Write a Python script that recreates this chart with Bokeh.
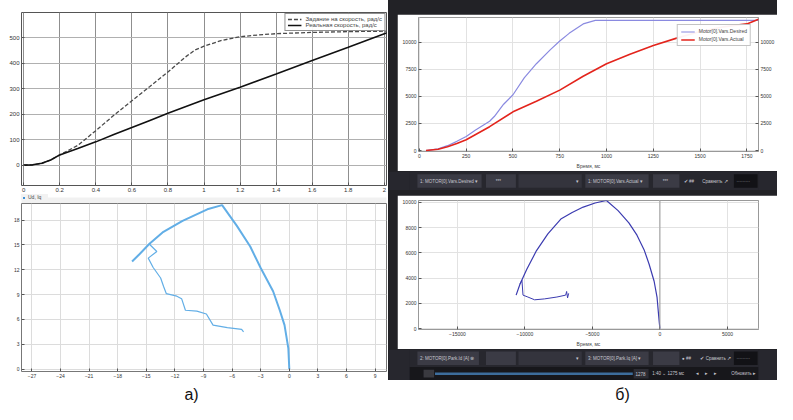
from bokeh.plotting import figure
from bokeh.layouts import column, row
from bokeh.models import Range1d, LinearAxis, FixedTicker, Legend, LegendItem, Label, Span
from bokeh.embed import file_html
from bokeh.resources import INLINE
from bokeh.core.properties import value

FONT = "Liberation Sans"

# ---------------- data: а) top (speed, rad/s vs time, s) ----------------
a1_t_ref = [0, 0.05, 0.1, 0.15, 0.2, 0.3, 0.4, 0.5, 0.6, 0.7, 0.8, 0.9, 0.95, 1.0, 1.1, 1.2, 1.3, 1.4, 1.6, 1.8, 2.02]
a1_w_ref = [0, 1, 6, 20, 40, 77, 135, 195, 252, 308, 365, 425, 451, 466, 489, 503, 510, 515, 520, 523, 525]
a1_t_real = [0, 0.05, 0.1, 0.15, 0.2, 0.3, 0.4, 0.5, 0.6, 0.7, 0.8, 1.0, 1.2, 1.4, 1.6, 1.8, 2.0, 2.03]
a1_w_real = [0, 1, 7, 20, 40, 65, 91, 120, 147, 175, 203, 256, 305, 357, 410, 462, 515, 522]
a1_xticks = [0, 0.2, 0.4, 0.6, 0.8, 1.0, 1.2, 1.4, 1.6, 1.8, 2.0]
a1_xlabels = ["0", "0.2", "0.4", "0.6", "0.8", "1", "1.2", "1.4", "1.6", "1.8", "2"]
a1_yticks = [0, 100, 200, 300, 400, 500]
a1_legend = ["Задание на скорость, рад/с", "Реальная скорость, рад/с"]

# ---------------- data: а) bottom (Ud, Iq) ----------------
a2_arc_x = [0, -0.1, -0.5, -1.0, -1.7, -3.0, -4.1, -5.5, -7.05, -8.6, -11.2, -13.3, -14.7, -15.7, -16.5]
a2_arc_y = [0, 2.5, 5.3, 7.1, 9.4, 12.2, 14.8, 17.3, 19.8, 19.3, 17.9, 16.5, 15.1, 13.9, 13.0]
a2_zig_x = [-14.7, -13.9, -14.8, -14.3, -13.5, -13.2, -12.9, -11.8, -11.3, -10.9, -9.7, -8.7, -8.0, -6.5, -5.0, -4.8]
a2_zig_y = [15.1, 14.2, 13.4, 12.3, 11.0, 10.0, 9.1, 8.8, 8.5, 7.1, 7.0, 6.65, 5.3, 5.0, 4.8, 4.5]
a2_xticks = [-27, -24, -21, -18, -15, -12, -9, -6, -3, 0, 3, 6, 9]
a2_yticks = [0, 3, 6, 9, 12, 15, 18]
a2_legend = "Ud, Iq"
cap_a = "а)"
cap_b = "б)"

# ---------------- data: б) top (ms) ----------------
b1_t_des = [35, 100, 150, 200, 250, 300, 375, 400, 450, 500, 560, 625, 700, 750, 800, 875, 940, 1000, 1250, 1500, 1812]
b1_v_des = [0, 150, 450, 850, 1300, 1900, 2700, 3135, 4270, 5140, 6700, 8000, 9300, 10100, 10800, 11670, 12000, 12000, 12000, 12000, 12000]
b1_t_act = [35, 100, 150, 200, 250, 375, 500, 625, 750, 875, 1000, 1125, 1250, 1375, 1500, 1625, 1750, 1812]
b1_v_act = [0, 120, 350, 650, 1000, 2200, 3570, 4550, 5570, 6850, 8000, 8880, 9670, 10360, 10970, 11400, 11670, 12100]
b1_xticks = [0, 250, 500, 750, 1000, 1250, 1500, 1750]
b1_yticks = [0, 2500, 5000, 7500, 10000]
b1_legend = ["Motor[0].Vars.Desired", "Motor[0].Vars.Actual"]
b_xlabel = "Время, мс"

# ---------------- data: б) bottom ----------------
b2_x = [0, -50, -95, -215, -430, -800, -1150, -1700, -2300, -3100, -3960, -4800, -5680, -6500, -7340, -8300, -9140, -9860, -10360, -10650]
b2_y = [0, 500, 1030, 2500, 3750, 5100, 6180, 7400, 8380, 9350, 10150, 9950, 9630, 9200, 8680, 7500, 6180, 4700, 3530, 2650]
b2_wx = [-10360, -10220, -10140, -9780, -9280, -8560, -7630, -6980, -6910, -6840, -6760]
b2_wy = [3530, 3820, 2650, 2500, 2280, 2350, 2500, 2650, 2940, 2430, 2790]
b2_xticks = [-15000, -10000, -5000, 0, 5000]
b2_yticks = [0, 2000, 4000, 6000, 8000, 10000]

# ---------------- UI chrome (toolbars), in reference pixel units ----------------
t1_box_l = [405, 483, 520, 596, 673, 765]
t1_box_r = [478, 517, 592, 668, 703, 792]
t1_box_c = ["#3b3b45", "#3b3b45", "#34343d", "#3b3b45", "#3b3b45", "#121216"]
t1_txt_x = [408, 494, 585, 599, 684, 708, 729, 768]
t1_txt = ["1: MOTOR[0].Vars.Desired  ▾", "***", "▾", "1: MOTOR[0].Vars.Actual  ▾", "***", "✔ ##", "Сравнить ↗", "·········"]

t2_box_l = [405, 483, 520, 596, 673, 765]
t2_box_r = [475, 517, 592, 668, 703, 792]
t2_txt_x = [408, 585, 599, 706, 727, 768]
t2_txt = ["2: MOTOR[0].Park.Id [A]  ⊗", "▾", "3: MOTOR[0].Park.Iq [A]  ▾", "● ##", "✔ Сравнить ↗", "·········"]
t2_txt2_x = [653, 672, 722, 732, 742, 762]
t2_txt2 = ["1278", "1:40 ⌄ 1275 мс", "◂", "▸", "▸", "Обновить ▸"]


def style_axes(p, size="6px", color="#333333"):
    for ax in p.axis:
        ax.major_label_text_font = FONT
        ax.major_label_text_font_size = size
        ax.major_label_text_color = color
        ax.major_label_standoff = 2
        ax.major_tick_out = 0
        ax.major_tick_in = 3
        ax.minor_tick_in = 0
        ax.minor_tick_out = 0
        ax.axis_line_color = None
        ax.major_tick_line_color = "#555555"


def caption_fig(text, width, height, cx):
    c = figure(width=width, height=height, output_backend="svg", toolbar_location=None,
               x_range=Range1d(0, 1), y_range=Range1d(0, 1), x_axis_type=None, y_axis_type=None,
               min_border_left=0, min_border_right=0, min_border_top=0, min_border_bottom=0,
               background_fill_color="white", border_fill_color="white", outline_line_color=None)
    c.add_layout(Label(x=cx, y=2, x_units="screen", y_units="screen", text=text,
                       text_font=FONT, text_font_size="16px", text_align="center",
                       text_baseline="bottom", text_color="#111111"))
    return c


# ================= а) top =================
a1 = figure(width=388, height=194, output_backend="svg", toolbar_location=None,
            x_range=Range1d(-0.012, 2.012), y_range=Range1d(-80, 598),
            min_border_left=21, min_border_right=2, min_border_top=12, min_border_bottom=9,
            background_fill_color="white", border_fill_color="white")
r_ref = a1.line(a1_t_ref, a1_w_ref, line_color="#4a4a4a", line_width=1.3, line_dash="4 2")
r_real = a1.line(a1_t_real, a1_w_real, line_color="#111111", line_width=1.6)
a1.xaxis.ticker = FixedTicker(ticks=a1_xticks)
a1.xaxis.major_label_overrides = {t: l for t, l in zip(a1_xticks, a1_xlabels)}
a1.yaxis.ticker = FixedTicker(ticks=a1_yticks)
style_axes(a1)
a1.xgrid.grid_line_color = "#8f8f8f"
a1.ygrid.grid_line_color = "#b0b0b0"
a1.outline_line_color = "#555555"
lg1 = Legend(items=[LegendItem(label=a1_legend[0], renderers=[r_ref]),
                    LegendItem(label=a1_legend[1], renderers=[r_real])],
             location="top_right", label_text_font=FONT, label_text_font_size="6px",
             label_height=6, glyph_height=6, glyph_width=14, padding=2, spacing=0, margin=1,
             border_line_color="#222222", label_standoff=4)
a1.add_layout(lg1)

# ---- legend strip for а) bottom ----
strip = figure(width=388, height=9, output_backend="svg", toolbar_location=None,
               x_range=Range1d(0, 1), y_range=Range1d(0, 1), x_axis_type=None, y_axis_type=None,
               min_border_left=21, min_border_right=2, min_border_top=0, min_border_bottom=0,
               background_fill_color="#f1f1f1", border_fill_color="white", outline_line_color=None)
r_leg = strip.scatter(x=[-5], y=[-5], marker="square", size=5, fill_color="#3d8fd6", line_color=None)
strip.add_layout(Legend(items=[LegendItem(label=a2_legend, renderers=[r_leg])],
                        location="top_left", orientation="horizontal", label_text_font=FONT,
                        label_text_font_size="5px", label_height=5, glyph_height=5, glyph_width=5,
                        padding=1, margin=0, spacing=0, label_standoff=2,
                        background_fill_color="#f1f1f1", border_line_color=None))

# ================= а) bottom =================
a2 = figure(width=388, height=177, output_backend="svg", toolbar_location=None,
            x_range=Range1d(-28.1, 10.2), y_range=Range1d(-0.3, 20),
            min_border_left=21, min_border_right=2, min_border_top=0, min_border_bottom=9,
            background_fill_color="white", border_fill_color="white")
a2.line(a2_arc_x, a2_arc_y, line_color="#62aee6", line_width=2)
a2.line(a2_zig_x, a2_zig_y, line_color="#62aee6", line_width=1.2)
a2.xaxis.ticker = FixedTicker(ticks=a2_xticks)
a2.yaxis.ticker = FixedTicker(ticks=a2_yticks)
style_axes(a2, size="5px")
a2.xgrid.grid_line_color = "#dcdcdc"
a2.ygrid.grid_line_color = "#dcdcdc"
a2.outline_line_color = "#777777"

cap1 = caption_fig(cap_a, 388, 24, 170)

left = column(a1, strip, a2, cap1, spacing=0)

# ================= б) top =================
b1 = figure(width=380, height=157, output_backend="svg", toolbar_location=None,
            x_range=Range1d(-5, 1812), y_range=Range1d(-87, 12260),
            min_border_left=21, min_border_right=17, min_border_top=3, min_border_bottom=17,
            background_fill_color="white", border_fill_color="white")
b1.extra_y_ranges = {"r": Range1d(-87, 12260)}
b1.add_layout(LinearAxis(y_range_name="r", ticker=FixedTicker(ticks=b1_yticks)), "right")
rd = b1.line(b1_t_des, b1_v_des, line_color="#8a8ae0", line_width=1.2)
ra = b1.line(b1_t_act, b1_v_act, line_color="#e3241c", line_width=1.6)
b1.xaxis.ticker = FixedTicker(ticks=b1_xticks)
b1.yaxis.ticker = FixedTicker(ticks=b1_yticks)
b1.xaxis.axis_label = b_xlabel
style_axes(b1, size="5px")
b1.xaxis.axis_label_text_font = FONT
b1.xaxis.axis_label_text_font_size = "5px"
b1.xaxis.axis_label_text_font_style = "normal"
b1.xaxis.axis_label_standoff = 2
b1.xgrid.grid_line_color = "#e2e2e2"
b1.ygrid.grid_line_color = "#e2e2e2"
b1.outline_line_color = "#999999"
lg3 = Legend(items=[LegendItem(label=b1_legend[0], renderers=[rd]),
                    LegendItem(label=b1_legend[1], renderers=[ra])],
             location="top_right", label_text_font=FONT, label_text_font_size="5px",
             label_height=5, glyph_height=5, glyph_width=14, padding=3, spacing=2, margin=7,
             border_line_color="#888888", label_standoff=4)
b1.add_layout(lg3)
b1.margin = (14, 0, 0, 9)

# ---- toolbar 1 ----
t1 = figure(width=389, height=19, output_backend="svg", toolbar_location=None,
            x_range=Range1d(396, 793), y_range=Range1d(198, 178),
            x_axis_type=None, y_axis_type=None,
            min_border_left=0, min_border_right=0, min_border_top=0, min_border_bottom=0,
            background_fill_color="#27272e", border_fill_color="#27272e", outline_line_color=None)
t1.quad(left=t1_box_l, right=t1_box_r, top=[181] * 6, bottom=[195] * 6, fill_color=t1_box_c, line_color=None)
t1.text(x=t1_txt_x, y=[188] * len(t1_txt), text=t1_txt, text_font=value(FONT), text_font_size="4.5px",
        text_color="#c8c8d0", text_baseline="middle")

# ================= б) bottom =================
b2 = figure(width=380, height=154, output_backend="svg", toolbar_location=None,
            x_range=Range1d(-17880, 7300), y_range=Range1d(-74, 10150),
            min_border_left=20, min_border_right=17, min_border_top=5, min_border_bottom=15,
            background_fill_color="white", border_fill_color="white")
b2.line(b2_x, b2_y, line_color="#3b3bb0", line_width=1.2)
b2.line(b2_wx, b2_wy, line_color="#3b3bb0", line_width=1.0)
b2.add_layout(Span(location=0, dimension="height", line_color="#9a9a9a", line_width=1))
b2.xaxis.ticker = FixedTicker(ticks=b2_xticks)
b2.yaxis.ticker = FixedTicker(ticks=b2_yticks)
b2.xaxis.axis_label = b_xlabel
style_axes(b2, size="5px")
b2.xaxis.axis_label_text_font = FONT
b2.xaxis.axis_label_text_font_size = "5px"
b2.xaxis.axis_label_text_font_style = "normal"
b2.xaxis.axis_label_standoff = 2
b2.xgrid.grid_line_color = "#e2e2e2"
b2.ygrid.grid_line_color = "#e2e2e2"
b2.outline_line_color = "#999999"
b2.margin = (5, 0, 0, 9)

# ---- toolbar 2 ----
t2 = figure(width=389, height=31, output_backend="svg", toolbar_location=None,
            x_range=Range1d(396, 793), y_range=Range1d(395, 363),
            x_axis_type=None, y_axis_type=None,
            min_border_left=0, min_border_right=0, min_border_top=0, min_border_bottom=0,
            background_fill_color="#27272e", border_fill_color="#27272e", outline_line_color=None)
t2.quad(left=[396], right=[793], top=[381], bottom=[395], fill_color="#17171b", line_color=None)
t2.quad(left=t2_box_l, right=t2_box_r, top=[365] * 6, bottom=[379] * 6, fill_color=t1_box_c, line_color=None)
t2.text(x=t2_txt_x, y=[372] * len(t2_txt), text=t2_txt, text_font=value(FONT), text_font_size="4.5px",
        text_color="#c8c8d0", text_baseline="middle")
t2.quad(left=[412], right=[424], top=[384], bottom=[392], fill_color="#3a3a40", line_color=None)
t2.segment(x0=[425], y0=[388], x1=[650], y1=[388], line_color="#3d6d9c", line_width=2.5)
t2.quad(left=[651], right=[668], top=[383], bottom=[393], fill_color="#2c2c33", line_color=None)
t2.text(x=t2_txt2_x, y=[388] * len(t2_txt2), text=t2_txt2, text_font=value(FONT), text_font_size="4.5px",
        text_color="#c8c8d0", text_baseline="middle")

dark = column(b1, t1, b2, t2, spacing=0, styles={"background-color": "#222226"})
cap2 = caption_fig(cap_b, 389, 24, 234)
right = column(dark, cap2, spacing=0)

layout = row(left, right, spacing=0)

open("out.html", "w").write(file_html(layout, INLINE))
